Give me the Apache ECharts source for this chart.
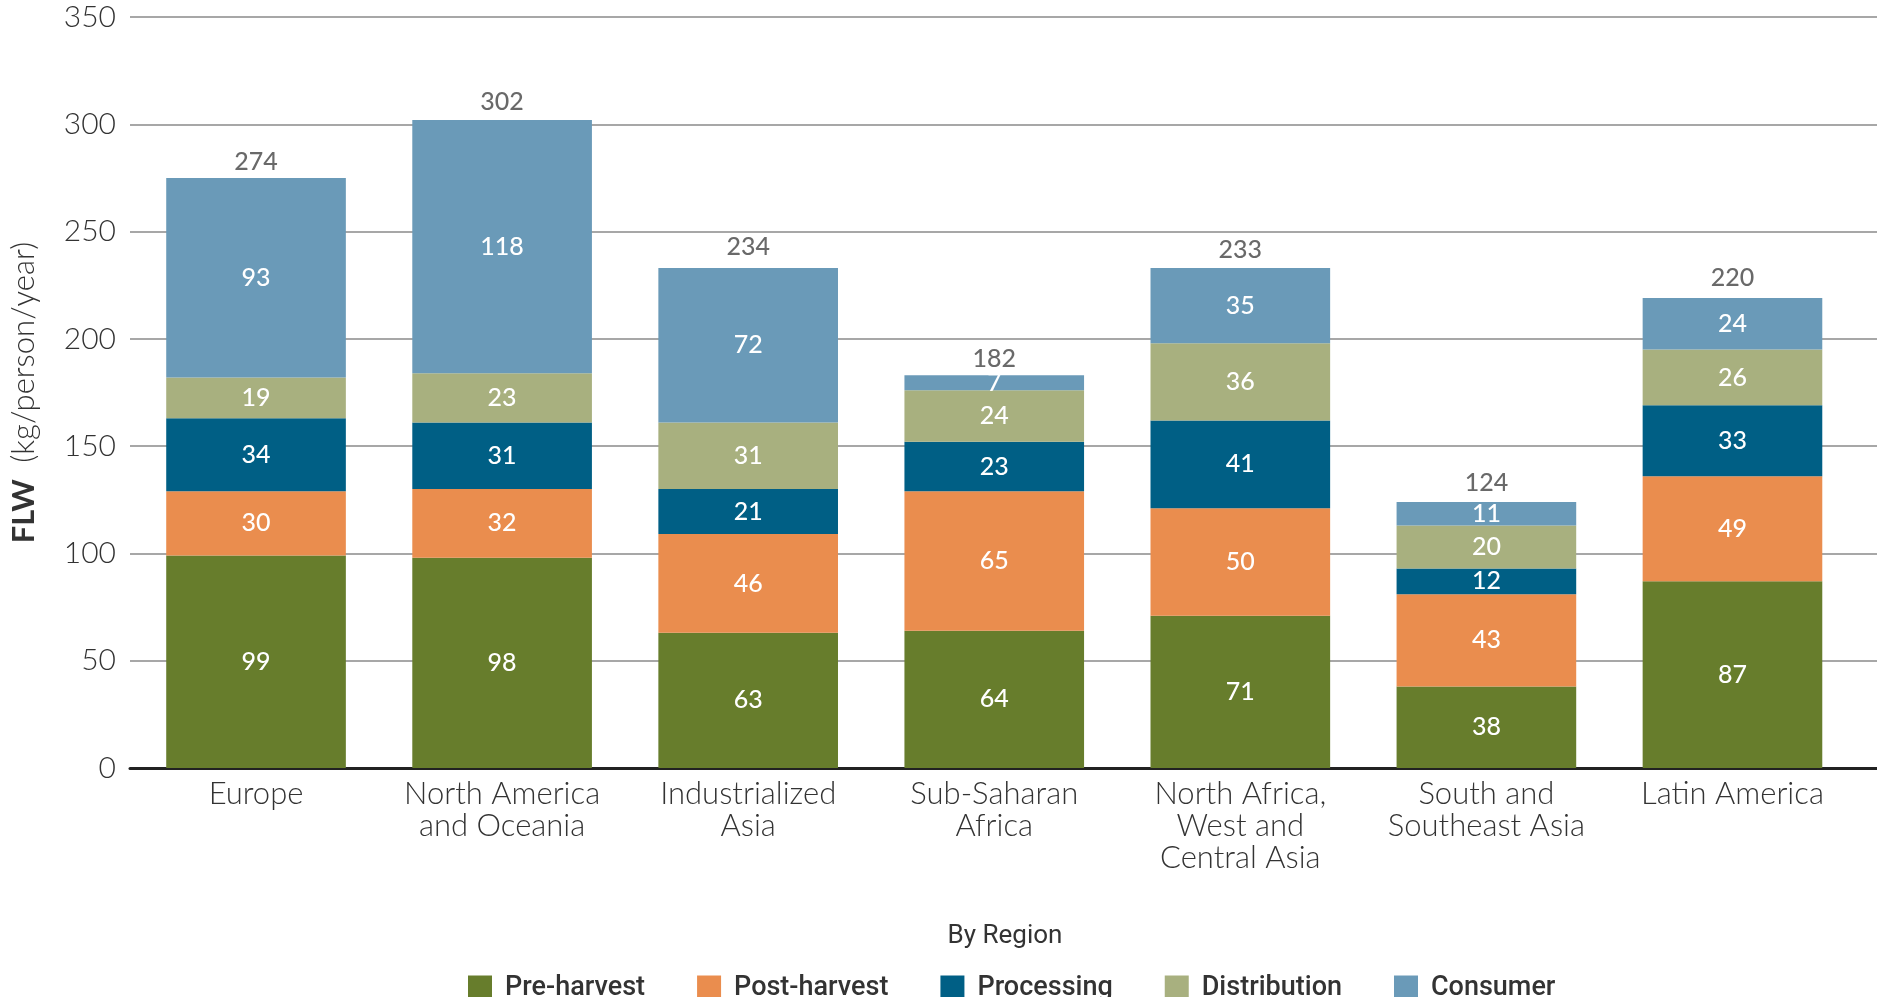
<!DOCTYPE html>
<html><head><meta charset="utf-8">
<script src="https://cdn.jsdelivr.net/npm/echarts@6/dist/echarts.min.js"></script>
<style>html,body{margin:0;padding:0;background:#fff}#c{width:1877px;height:997px}</style>
</head><body><div id="c"></div>
<script>
const categories = ['Europe','North America\nand Oceania','Industrialized\nAsia','Sub-Saharan\nAfrica','North Africa,\nWest and\nCentral Asia','South and\nSoutheast Asia','Latin America'];
const preHarvest  = [99, 98, 63, 64, 71, 38, 87];
const postHarvest = [30, 32, 46, 65, 50, 43, 49];
const processing  = [34, 31, 21, 23, 41, 12, 33];
const distribution= [19, 23, 31, 24, 36, 20, 26];
const consumer    = [93, 118, 72, 7, 35, 11, 24];
const totals      = [274, 302, 234, 182, 233, 124, 220];
const seriesNames = ['Pre-harvest','Post-harvest','Processing','Distribution','Consumer'];
const colors = ['#677D2C','#EA8D4E','#005F85','#A8B07F','#6A9AB8'];
const yTicks = {min: 0, max: 350, interval: 50};

const FONT = 'Lato, "Open Sans", sans-serif';
const NARROW = '"Liberation Sans Narrow", "Roboto", sans-serif';
const chart = echarts.init(document.getElementById('c'));
const stackData = [preHarvest, postHarvest, processing, distribution, consumer];
const barSeries = stackData.map((d, i) => ({
  name: seriesNames[i], type: 'bar', stack: 'flw', data: d,
  xAxisIndex: 0, yAxisIndex: 0,
  barCategoryGap: '27%',
  itemStyle: {color: colors[i]},
  label: {show: true, position: 'inside', color: '#fff', fontSize: 25, fontFamily: FONT, fontWeight: 500},
  emphasis: {disabled: true}
}));
barSeries.push({
  name: 'Total', type: 'scatter', data: totals, symbolSize: 0, xAxisIndex: 0, yAxisIndex: 0,
  label: {show: true, position: 'top', distance: 6, color: '#444', fontSize: 25, fontFamily: FONT, fontWeight: 500},
  silent: true
});

chart.setOption({
  animation: false,
  color: colors,
  title: {text: 'By Region', left: 1000, textAlign: 'center', top: 918,
    textStyle: {fontFamily: NARROW, fontWeight: 'normal', fontSize: 26, color: '#333'}},
  legend: {
    data: seriesNames, left: 463, top: 970, itemWidth: 24, itemHeight: 26, itemGap: 52,
    icon: 'rect',
    textStyle: {fontFamily: NARROW, fontSize: 27, color: '#333', fontWeight: 500, padding: [0,0,0,8]}
  },
  grid: [
    {left: 130, right: 21.5, top: 17, bottom: 229, containLabel: false},
    {left: 130, right: 0, top: 17, bottom: 229, containLabel: false}
  ],
  xAxis: [
    {type: 'category', gridIndex: 0, data: categories,
     axisLine: {show: false}, axisTick: {show: false},
     axisLabel: {color: '#333', fontFamily: FONT, fontWeight: 300, fontSize: 31, lineHeight: 32, margin: 10, interval: 0}},
    {type: 'value', gridIndex: 1, min: 0, max: 1, show: true,
     axisLine: {show: true, lineStyle: {color: '#222', width: 3}}, axisTick: {show: false}, axisLabel: {show: false}, splitLine: {show: false}}
  ],
  yAxis: [
    {type: 'value', gridIndex: 0, min: yTicks.min, max: yTicks.max, interval: yTicks.interval,
     axisLine: {show: false}, axisTick: {show: false}, splitLine: {show: false},
     axisLabel: {color: '#333', fontFamily: FONT, fontWeight: 300, fontSize: 30, margin: 17},
     name: '{b|FLW}{n| (kg/person/year)}', nameLocation: 'middle', nameRotate: 90, nameGap: 94,
     nameTextStyle: {rich: {
       b: {fontFamily: FONT, fontWeight: 'bold', fontSize: 31, color: '#333'},
       n: {fontFamily: FONT, fontWeight: 300, fontSize: 31, color: '#333', padding: [0,0,0,8]}
     }}},
    {type: 'value', gridIndex: 1, min: yTicks.min, max: yTicks.max, interval: yTicks.interval,
     axisLine: {show: false}, axisTick: {show: false}, axisLabel: {show: false},
     splitLine: {show: true, lineStyle: {color: '#8a8a8a', width: 1.5}}, z: 0}
  ],
  series: barSeries
});
</script></body></html>
